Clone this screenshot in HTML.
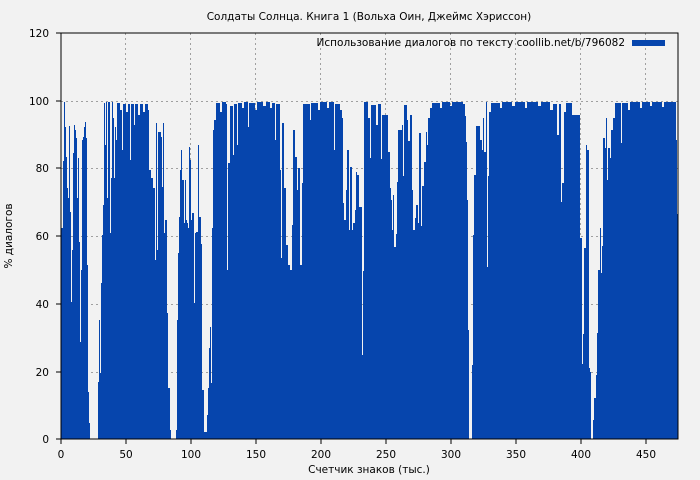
<!DOCTYPE html>
<html><head><meta charset="utf-8"><style>
html,body{margin:0;padding:0;background:#f2f2f2;}
svg{display:block;font-family:"DejaVu Sans","Liberation Sans",sans-serif;}
</style></head><body>
<svg width="700" height="480" xmlns="http://www.w3.org/2000/svg">
<rect width="700" height="480" fill="#f2f2f2"/>
<g stroke="#a0a0a0" stroke-dasharray="2,3" stroke-width="1">
<line x1="61" y1="372.5" x2="678" y2="372.5"/>
<line x1="61" y1="304.5" x2="678" y2="304.5"/>
<line x1="61" y1="236.5" x2="678" y2="236.5"/>
<line x1="61" y1="168.5" x2="678" y2="168.5"/>
<line x1="61" y1="101.5" x2="678" y2="101.5"/>
<line x1="125.5" y1="33" x2="125.5" y2="439"/>
<line x1="190.5" y1="33" x2="190.5" y2="439"/>
<line x1="255.5" y1="33" x2="255.5" y2="439"/>
<line x1="320.5" y1="33" x2="320.5" y2="439"/>
<line x1="385.5" y1="33" x2="385.5" y2="439"/>
<line x1="450.5" y1="33" x2="450.5" y2="439"/>
<line x1="515.5" y1="33" x2="515.5" y2="439"/>
<line x1="580.5" y1="33" x2="580.5" y2="439"/>
<line x1="645.5" y1="33" x2="645.5" y2="439"/>
</g>
<polygon fill="#0645ad" points="61,439 61,228 63,228 63,161 64,161 64,102 65,102 65,127 66,127 66,157 67,157 67,188 68,188 68,198 69,198 69,126 70,126 70,212 71,212 71,302 72,302 72,250 73,250 73,153 74,153 74,125 75,125 75,130 76,130 76,138 77,138 77,198 78,198 78,158 79,158 79,242 80,242 80,342 81,342 81,270 82,270 82,140 83,140 83,137 84,137 84,127 85,127 85,122 86,122 86,138 87,138 87,265 88,265 88,392 89,392 89,423 90,423 90,439 98,439 98,382 99,382 99,320 100,320 100,373 101,373 101,283 102,283 102,235 103,235 103,205 104,205 104,103 105,103 105,145 106,145 106,102 107,102 107,198 108,198 108,102 110,102 110,233 111,233 111,178 112,178 112,102 113,102 113,118 114,118 114,178 115,178 115,127 116,127 116,140 117,140 117,103 120,103 120,110 122,110 122,150 123,150 123,104 126,104 126,112 128,112 128,104 130,104 130,160 131,160 131,104 134,104 134,125 135,125 135,104 138,104 138,115 140,115 140,104 143,104 143,112 145,112 145,104 148,104 148,110 149,110 149,170 151,170 151,178 153,178 153,188 155,188 155,260 156,260 156,123 157,123 157,250 158,250 158,132 161,132 161,137 162,137 162,187 163,187 163,123 164,123 164,233 165,233 165,220 167,220 167,313 168,313 168,388 170,388 170,430 171,430 171,439 176,439 176,430 177,430 177,320 178,320 178,253 179,253 179,217 180,217 180,170 181,170 181,150 182,150 182,180 184,180 184,223 185,223 185,180 186,180 186,220 187,220 187,223 188,223 188,228 189,228 189,147 190,147 190,160 191,160 191,220 192,220 192,213 194,213 194,303 195,303 195,233 196,233 196,232 198,232 198,145 199,145 199,217 201,217 201,244 202,244 202,390 204,390 204,432 207,432 207,415 208,415 208,388 209,388 209,348 210,348 210,327 211,327 211,383 212,383 212,228 213,228 213,130 214,130 214,120 216,120 216,103 220,103 220,112 222,112 222,102 226,102 226,104 227,104 227,270 228,270 228,163 230,163 230,106 233,106 233,155 234,155 234,104 237,104 237,145 238,145 238,103 242,103 242,108 244,108 244,102 248,102 248,127 249,127 249,103 255,103 255,110 257,110 257,102 263,102 263,106 266,106 266,102 270,102 270,108 272,108 272,103 275,103 275,140 276,140 276,104 280,104 280,170 281,170 281,258 282,258 282,123 284,123 284,188 286,188 286,245 288,245 288,265 290,265 290,270 292,270 292,225 293,225 293,130 295,130 295,157 297,157 297,190 298,190 298,168 300,168 300,265 302,265 302,183 303,183 303,104 310,104 310,120 311,120 311,103 318,103 318,110 320,110 320,102 327,102 327,108 329,108 329,102 334,102 334,150 335,150 335,104 340,104 340,110 342,110 342,118 343,118 343,203 344,203 344,220 346,220 346,190 347,190 347,150 349,150 349,230 350,230 350,167 352,167 352,230 353,230 353,223 355,223 355,210 356,210 356,172 357,172 357,175 359,175 359,207 362,207 362,355 363,355 363,271 364,271 364,102 368,102 368,118 370,118 370,158 371,158 371,105 376,105 376,125 378,125 378,104 381,104 381,159 382,159 382,115 388,115 388,152 390,152 390,188 391,188 391,200 392,200 392,230 393,230 393,195 394,195 394,247 396,247 396,234 397,234 397,182 398,182 398,130 402,130 402,125 403,125 403,176 404,176 404,105 407,105 407,120 408,120 408,141 410,141 410,115 412,115 412,190 413,190 413,230 415,230 415,218 416,218 416,205 418,205 418,223 419,223 419,133 421,133 421,226 422,226 422,186 424,186 424,162 426,162 426,132 427,132 427,145 428,145 428,118 430,118 430,108 432,108 432,103 440,103 440,108 442,108 442,102 450,102 450,106 452,106 452,102 463,102 463,104 465,104 465,116 466,116 466,142 467,142 467,200 468,200 468,330 469,330 469,439 472,439 472,365 473,365 473,235 474,235 474,175 476,175 476,126 480,126 480,140 482,140 482,150 483,150 483,118 484,118 484,152 486,152 486,102 487,102 487,267 488,267 488,176 489,176 489,112 491,112 491,103 500,103 500,108 502,108 502,102 512,102 512,106 515,106 515,102 525,102 525,108 527,108 527,102 538,102 538,106 541,106 541,102 550,102 550,110 553,110 553,104 557,104 557,135 559,135 559,104 561,104 561,202 562,202 562,183 564,183 564,112 566,112 566,103 572,103 572,115 580,115 580,238 582,238 582,364 583,364 583,334 584,334 584,248 586,248 586,145 587,145 587,150 589,150 589,368 590,368 590,372 591,372 591,439 593,439 593,420 594,420 594,398 596,398 596,375 597,375 597,333 598,333 598,270 600,270 600,228 601,228 601,273 602,273 602,246 603,246 603,138 605,138 605,148 606,148 606,118 607,118 607,180 608,180 608,148 610,148 610,158 611,158 611,130 613,130 613,118 615,118 615,103 621,103 621,143 622,143 622,103 628,103 628,110 630,110 630,102 640,102 640,108 642,108 642,102 650,102 650,106 652,106 652,102 662,102 662,107 664,107 664,102 676,102 676,140 677,140 677,214 678,214 678,439"/>
<rect x="61" y="33" width="617" height="406" fill="none" stroke="#000" stroke-width="1"/>
<g stroke="#000">
<line x1="61" y1="439" x2="61" y2="444"/><line x1="126" y1="439" x2="126" y2="444"/><line x1="191" y1="439" x2="191" y2="444"/><line x1="256" y1="439" x2="256" y2="444"/><line x1="321" y1="439" x2="321" y2="444"/><line x1="386" y1="439" x2="386" y2="444"/><line x1="451" y1="439" x2="451" y2="444"/><line x1="516" y1="439" x2="516" y2="444"/><line x1="581" y1="439" x2="581" y2="444"/><line x1="646" y1="439" x2="646" y2="444"/>
<line x1="56" y1="439" x2="61" y2="439"/><line x1="56" y1="372" x2="61" y2="372"/><line x1="56" y1="304" x2="61" y2="304"/><line x1="56" y1="236" x2="61" y2="236"/><line x1="56" y1="168" x2="61" y2="168"/><line x1="56" y1="101" x2="61" y2="101"/><line x1="56" y1="33" x2="61" y2="33"/>
</g>
<g font-size="10.5" fill="#000" text-anchor="end">
<text x="49" y="443">0</text><text x="49" y="376">20</text><text x="49" y="308">40</text><text x="49" y="240">60</text><text x="49" y="172">80</text><text x="49" y="105">100</text><text x="49" y="37">120</text>
</g>
<g font-size="10.5" fill="#000" text-anchor="middle">
<text x="61" y="458">0</text><text x="126" y="458">50</text><text x="191" y="458">100</text><text x="256" y="458">150</text><text x="321" y="458">200</text><text x="386" y="458">250</text><text x="451" y="458">300</text><text x="516" y="458">350</text><text x="581" y="458">400</text><text x="646" y="458">450</text>
<text x="369" y="20">Солдаты Солнца. Книга 1 (Вольха Оин, Джеймс Хэриссон)</text>
<text x="369" y="473">Счетчик знаков (тыс.)</text>
<text transform="translate(12,236) rotate(-90)">% диалогов</text>
</g>
<text x="625" y="46" font-size="10.5" text-anchor="end">Использование диалогов по тексту coollib.net/b/796082</text>
<rect x="632" y="40" width="33" height="6" fill="#0645ad"/>
</svg>
</body></html>
